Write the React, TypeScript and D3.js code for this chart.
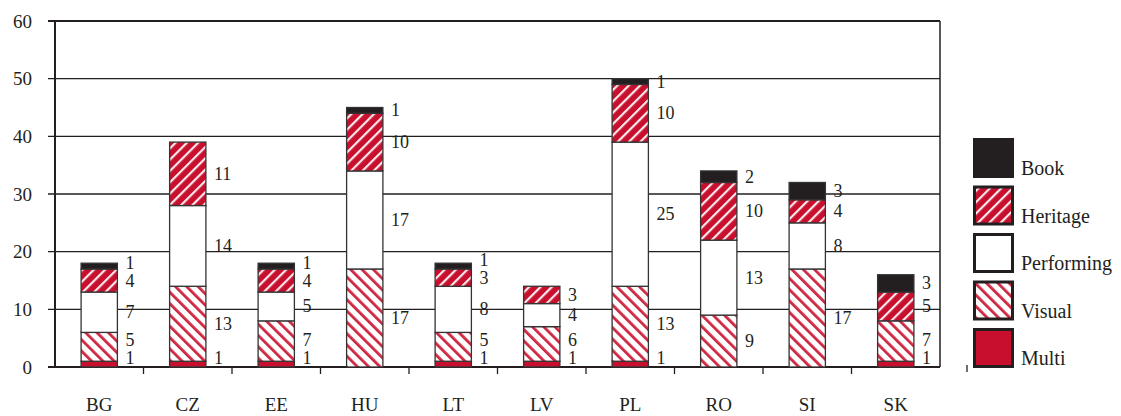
import * as d3 from "d3";
import React from "react";

const categories = ["BG", "CZ", "EE", "HU", "LT", "LV", "PL", "RO", "SI", "SK"];
const seriesNames = ["Multi", "Visual", "Performing", "Heritage", "Book"];
const multi = [1, 1, 1, 0, 1, 1, 1, 0, 0, 1];
const visual = [5, 13, 7, 17, 5, 6, 13, 9, 17, 7];
const performing = [7, 14, 5, 17, 8, 4, 25, 13, 8, 0];
const heritage = [4, 11, 4, 10, 3, 3, 10, 10, 4, 5];
const book = [1, 0, 1, 1, 1, 0, 1, 2, 3, 3];
const yTicks = [0, 10, 20, 30, 40, 50, 60];

const RED = "#c8102e";
const DARK = "#231f20";
const FONT = "'Liberation Serif', serif";

const fills: Record<string, string> = {
  Multi: RED,
  Visual: "url(#visualPat)",
  Performing: "#fff",
  Heritage: "url(#heritagePat)",
  Book: DARK,
};

const W = 1121;
const H = 416;
const margin = { left: 55, right: 181, top: 21, bottom: 49 };

export default function App() {
  const rows = categories.map((c, i) => ({
    cat: c,
    Multi: multi[i],
    Visual: visual[i],
    Performing: performing[i],
    Heritage: heritage[i],
    Book: book[i],
  }));
  const stack = d3.stack<any>().keys(seriesNames)(rows);

  const x = d3
    .scaleBand()
    .domain(categories)
    .range([margin.left, W - margin.right])
    .padding(0);
  const y = d3.scaleLinear().domain([0, 60]).range([H - margin.bottom, margin.top]);
  const barW = x.bandwidth() * 0.41;
  const x0 = margin.left;
  const x1 = W - margin.right;
  const yBase = y(0);

  // labels: midpoint of each segment, pushed apart from the bottom up
  const labels: { x: number; y: number; text: string; key: string }[] = [];
  categories.forEach((c, i) => {
    let prev = Infinity;
    stack.forEach((s) => {
      const [a, b] = s[i];
      if (b - a <= 0) return;
      let cy = y((a + b) / 2);
      cy = Math.min(cy, yBase - 9, prev - 18);
      prev = cy;
      labels.push({
        x: (x(c) as number) + x.bandwidth() / 2 + barW / 2 + 8,
        y: cy,
        text: String(b - a),
        key: c + s.key,
      });
    });
  });

  const legendItems = ["Book", "Heritage", "Performing", "Visual", "Multi"];
  const legendY = d3.scalePoint().domain(legendItems).range([138, 328]);

  return (
    <svg
      width={W}
      height={H}
      style={{ position: "absolute", left: 0, top: 0, background: "#fff" }}
      fontFamily={FONT}
    >
      <defs>
        <pattern
          id="heritagePat"
          width={8}
          height={8}
          patternUnits="userSpaceOnUse"
          patternTransform="rotate(45)"
        >
          <rect width={8} height={8} fill={RED} />
          <rect x={0} width={2.2} height={8} fill="#fff" opacity={0.9} />
        </pattern>
        <pattern
          id="visualPat"
          width={8}
          height={8}
          patternUnits="userSpaceOnUse"
          patternTransform="rotate(-45)"
        >
          <rect width={8} height={8} fill="#fff" />
          <rect x={0} width={2.8} height={8} fill={RED} opacity={0.9} />
        </pattern>
      </defs>

      {/* grid */}
      {yTicks.map((t) => (
        <g key={t}>
          <line x1={x0 - 7} x2={x1} y1={y(t)} y2={y(t)} stroke={DARK} strokeWidth={t === 60 || t === 0 ? 2 : 1.3} />
          <text x={32} y={y(t)} textAnchor="end" dominantBaseline="central" fontSize={19} fill={DARK}>
            {t}
          </text>
        </g>
      ))}
      <line x1={x0} x2={x0} y1={y(60)} y2={yBase} stroke={DARK} strokeWidth={2} />
      <line x1={x1} x2={x1} y1={y(60)} y2={yBase} stroke={DARK} strokeWidth={1.5} />
      {categories.slice(1).map((c) => (
        <line key={c} x1={x(c)} x2={x(c)} y1={yBase} y2={yBase + 7} stroke={DARK} strokeWidth={1.3} />
      ))}
      <line x1={967} x2={967} y1={365} y2={372} stroke={DARK} strokeWidth={1.3} />

      {/* bars */}
      {stack.map((s) => (
        <g key={s.key}>
          {s.map((d, i) => {
            if (d[1] - d[0] <= 0) return null;
            const cx = (x(categories[i]) as number) + x.bandwidth() / 2;
            return (
              <rect
                key={i}
                x={cx - barW / 2}
                y={y(d[1])}
                width={barW}
                height={y(d[0]) - y(d[1])}
                fill={fills[s.key]}
                stroke="#333"
                strokeWidth={1.3}
              />
            );
          })}
        </g>
      ))}

      {/* value labels */}
      {labels.map((l) => (
        <text key={l.key} x={l.x} y={l.y} dominantBaseline="central" fontSize={18} fill={DARK}>
          {l.text}
        </text>
      ))}

      {/* category labels */}
      {categories.map((c) => (
        <text
          key={c}
          x={(x(c) as number) + x.bandwidth() / 2}
          y={411}
          textAnchor="middle"
          fontSize={19}
          fill={DARK}
        >
          {c}
        </text>
      ))}

      {/* legend */}
      {legendItems.map((k) => {
        const ly = legendY(k) as number;
        return (
          <g key={k}>
            <rect
              x={974.5}
              y={ly + 1.5}
              width={38}
              height={37}
              fill={fills[k]}
              stroke={DARK}
              strokeWidth={3}
            />
            <text x={1021} y={ly + 37} fontSize={20} fill={DARK}>
              {k}
            </text>
          </g>
        );
      })}
    </svg>
  );
}
